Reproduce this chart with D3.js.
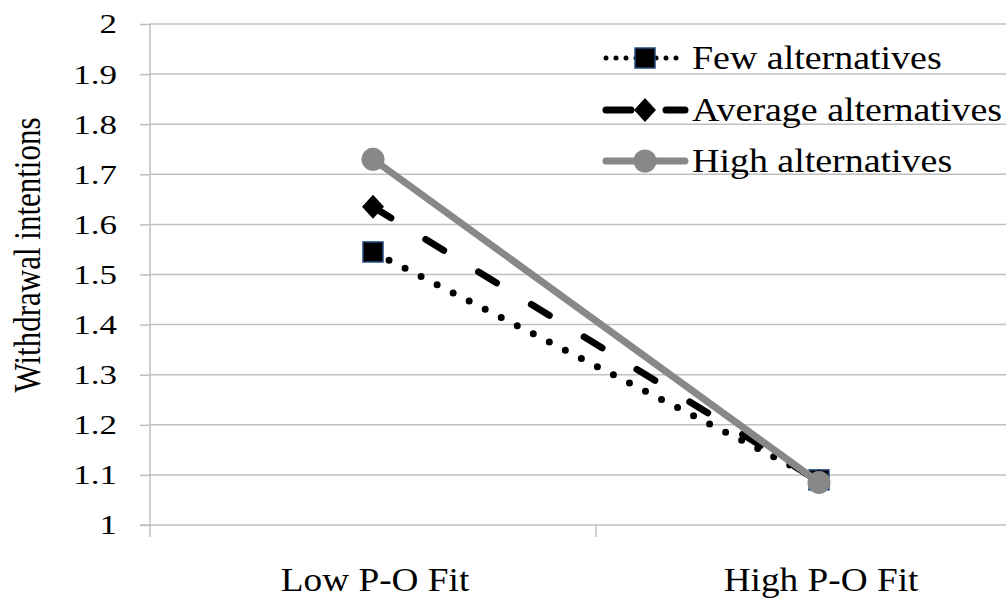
<!DOCTYPE html>
<html>
<head>
<meta charset="utf-8">
<script src="https://cdn.jsdelivr.net/npm/d3@7"></script>
<style>
  body { margin: 0; background: #fff; }
  svg { display: block; font-family: "Liberation Serif", "Times New Roman", serif; }
</style>
</head>
<body>
<div id="chart"></div>
<script>
const categories = ["Low P-O Fit", "High P-O Fit"];
const seriesNames = ["Few alternatives", "Average alternatives", "High alternatives"];
const fewValues = [1.545, 1.09];
const averageValues = [1.635, 1.087];
const highValues = [1.73, 1.085];
const yTicks = [1, 1.1, 1.2, 1.3, 1.4, 1.5, 1.6, 1.7, 1.8, 1.9, 2];

const W = 1006, H = 602;
const svg = d3.select("#chart").append("svg")
    .attr("width", W)
    .attr("height", H);

svg.append("rect").attr("width", W).attr("height", H).attr("fill", "#fff");

const x = d3.scaleBand().domain(categories).range([150, 1042]).padding(0);
const y = d3.scaleLinear().domain([1, 2]).range([525, 24]);
const gridColor = "#c0c0c0";

// gridlines
svg.append("g")
    .selectAll("line")
    .data(yTicks.slice(1))
    .join("line")
    .attr("x1", 150).attr("x2", W)
    .attr("y1", d => y(d)).attr("y2", d => y(d))
    .attr("stroke", gridColor).attr("stroke-width", 1.5);

// y axis
const yAxis = svg.append("g")
    .attr("transform", "translate(150,0)")
    .call(d3.axisLeft(y).tickValues(yTicks).tickSize(10)
        .tickFormat(d => d === 1 || d === 2 ? d3.format("d")(d) : d3.format(".1f")(d)));
yAxis.select(".domain").remove();
yAxis.selectAll(".tick line").attr("stroke", gridColor).attr("stroke-width", 1.5);
yAxis.selectAll(".tick text")
    .attr("font-size", 28)
    .attr("fill", "#000")
    .attr("font-family", "Liberation Serif")
    .attr("transform", "scale(1.25,1)")
    .attr("x", -33 / 1.25);

svg.append("line")
    .attr("x1", 150).attr("x2", 150).attr("y1", y(2)).attr("y2", 537)
    .attr("stroke", gridColor).attr("stroke-width", 1.5);

// x axis
svg.append("line")
    .attr("x1", 140).attr("x2", W).attr("y1", y(1)).attr("y2", y(1))
    .attr("stroke", gridColor).attr("stroke-width", 1.5);
svg.append("g")
    .selectAll("line")
    .data(categories)
    .join("line")
    .attr("x1", d => x(d) + x.bandwidth()).attr("x2", d => x(d) + x.bandwidth())
    .attr("y1", y(1)).attr("y2", 537)
    .attr("stroke", gridColor).attr("stroke-width", 1.5);

svg.append("g")
    .selectAll("text")
    .data(categories)
    .join("text")
    .attr("transform", d => `translate(${x(d) + x.bandwidth() / 2 + 2},591) scale(1.13,1)`)
    .attr("text-anchor", "middle")
    .attr("font-size", 33)
    .attr("fill", "#000")
    .text(d => d);

// y title
svg.append("text")
    .attr("transform", "translate(40,255) rotate(-90) scale(1,1.2)")
    .attr("text-anchor", "middle")
    .attr("font-size", 31)
    .attr("fill", "#000")
    .text("Withdrawal intentions");

// series
const series = [
    { name: seriesNames[0], values: fewValues, color: "#000", width: 7, dash: "0 18", legendWidth: 5, legendDash: "0 10", marker: "square" },
    { name: seriesNames[1], values: averageValues, color: "#000", width: 7, dash: "21 41", legendWidth: 7, legendDash: "25 35", marker: "diamond" },
    { name: seriesNames[2], values: highValues, color: "#888888", width: 7, dash: null, legendWidth: 7, legendDash: null, marker: "circle" }
];

const line = d3.line()
    .x((d, i) => x(categories[i]) + x.bandwidth() / 2)
    .y(d => y(d));

function drawMarker(g, type, cx, cy) {
    if (type === "square") {
        g.append("rect")
            .attr("x", cx - 10).attr("y", cy - 10).attr("width", 20).attr("height", 20)
            .attr("fill", "#000").attr("stroke", "#234a80").attr("stroke-width", 1.5);
    } else if (type === "diamond") {
        g.append("path")
            .attr("d", `M${cx},${cy - 12}L${cx + 11},${cy}L${cx},${cy + 12}L${cx - 11},${cy}Z`)
            .attr("fill", "#000");
    } else {
        g.append("circle")
            .attr("cx", cx).attr("cy", cy).attr("r", 11.5)
            .attr("fill", "#888888");
    }
}

series.forEach(s => {
    const g = svg.append("g");
    g.append("path")
        .attr("d", line(s.values))
        .attr("fill", "none")
        .attr("stroke", s.color)
        .attr("stroke-width", s.width)
        .attr("stroke-linecap", "round")
        .attr("stroke-dasharray", s.dash);
    s.values.forEach((v, i) => drawMarker(g, s.marker, x(categories[i]) + x.bandwidth() / 2, y(v)));
});

// legend
const legendY = [58, 110, 161];
series.forEach((s, i) => {
    const g = svg.append("g");
    const ly = legendY[i];
    g.append("line")
        .attr("x1", 606).attr("x2", 685).attr("y1", ly).attr("y2", ly)
        .attr("stroke", s.color)
        .attr("stroke-width", s.legendWidth)
        .attr("stroke-linecap", "round")
        .attr("stroke-dasharray", s.legendDash);
    drawMarker(g, s.marker, 645, ly);
    g.append("text")
        .attr("transform", `translate(692,${ly + 11}) scale(1.15,1)`)
        .attr("font-size", 33)
        .attr("fill", "#000")
        .text(s.name);
});
</script>
</body>
</html>
